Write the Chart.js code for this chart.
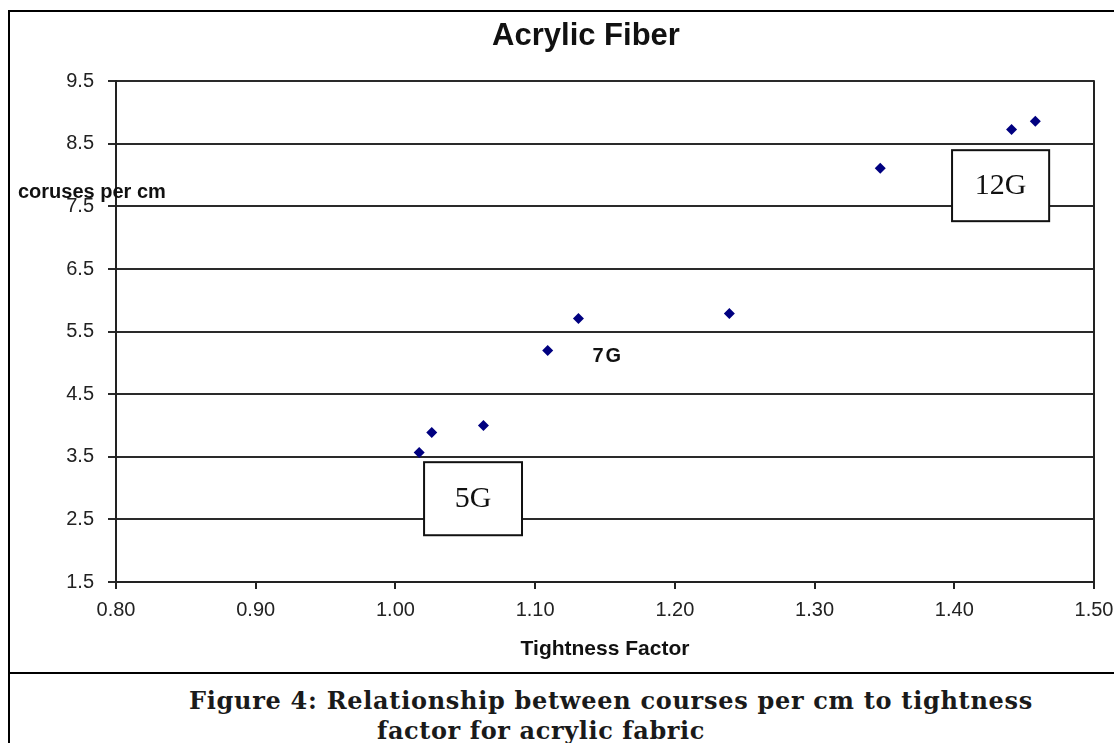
<!DOCTYPE html>
<html><head><meta charset="utf-8">
<script src="https://cdn.jsdelivr.net/npm/chart.js@4/dist/chart.umd.min.js"></script>
<style>
html,body{margin:0;padding:0;background:#fff;overflow:hidden;width:1114px;height:743px;}
#frame{position:absolute;left:8px;top:10px;width:1200px;height:800px;border-left:2px solid #000;border-top:2px solid #000;}
#sep{position:absolute;left:8px;top:672px;width:1200px;height:2px;background:#000;}
#wrap{position:absolute;left:10px;top:12px;width:1152px;height:660px;}
.cap{position:absolute;font-family:"DejaVu Serif",serif;font-weight:bold;font-size:24px;color:#1a1a1a;white-space:nowrap;line-height:28px;}
</style></head>
<body>
<div id="frame"></div><div id="sep"></div>
<div id="wrap"><canvas id="c" width="1152" height="660"></canvas></div>
<div class="cap" id="cap1" style="left:189px;top:687px">Figure 4: Relationship between courses per cm to tightness</div>
<div class="cap" id="cap2" style="left:377px;top:717px">factor for acrylic fabric</div>
<script>
// ---- data ----
const tightness = [1.017, 1.026, 1.063, 1.109, 1.131, 1.239, 1.347, 1.441, 1.458];
const courses   = [3.57,  3.89,  4.00,  5.20,  5.71,  5.79,  8.11,  8.73,  8.86];
const xTickValues = [0.8, 0.9, 1.0, 1.1, 1.2, 1.3, 1.4, 1.5];
const yTickValues = [1.5, 2.5, 3.5, 4.5, 5.5, 6.5, 7.5, 8.5, 9.5];
const boxLabels = ['5G', '12G'];
const plainLabels = ['7G'];

// annotation anchors in data units
const boxAnchors = [
  {x0: 1.0205, x1: 1.0906, y0: 2.247, y1: 3.414},
  {x0: 1.3984, x1: 1.4679, y0: 7.264, y1: 8.398}
];
const plainAnchors = [{x: 1.152, y: 5.107}];

// fit caption widths
function fitWidth(id, target){
  const el = document.getElementById(id);
  const w = el.getBoundingClientRect().width;
  const n = el.textContent.length;
  el.style.letterSpacing = ((target - w) / n) + 'px';
}
fitWidth('cap1', 844);
fitWidth('cap2', 328);

const decor = {
  id: 'decor',
  afterDraw(chart){
    const {ctx, chartArea: a, scales: {x, y}} = chart;
    ctx.save();
    // right frame of plot area
    ctx.strokeStyle = '#222';
    ctx.lineWidth = 2;
    ctx.beginPath();
    ctx.moveTo(a.right, a.top - 1);
    ctx.lineTo(a.right, a.bottom + 1);
    ctx.stroke();
    // boxed labels
    boxAnchors.forEach((b, i) => {
      const l = x.getPixelForValue(b.x0), r = x.getPixelForValue(b.x1);
      const t = y.getPixelForValue(b.y1), btm = y.getPixelForValue(b.y0);
      ctx.fillStyle = '#fff';
      ctx.fillRect(l, t, r - l, btm - t);
      ctx.strokeStyle = '#111';
      ctx.lineWidth = 2;
      ctx.strokeRect(l, t, r - l, btm - t);
      ctx.fillStyle = '#111';
      ctx.font = '30px "Liberation Serif", serif';
      ctx.textAlign = 'center';
      ctx.textBaseline = 'middle';
      ctx.fillText(boxLabels[i], (l + r) / 2, (t + btm) / 2);
    });
    // plain labels
    plainAnchors.forEach((p, i) => {
      ctx.fillStyle = '#111';
      ctx.font = 'bold 20px "Liberation Sans", Arial, sans-serif';
      ctx.letterSpacing = '2px';
      ctx.textAlign = 'center';
      ctx.textBaseline = 'middle';
      ctx.fillText(plainLabels[i], x.getPixelForValue(p.x), y.getPixelForValue(p.y));
    });
    ctx.letterSpacing = '0px';
    // horizontal y-axis caption
    ctx.fillStyle = '#111';
    ctx.font = 'bold 20px "Liberation Sans", Arial, sans-serif';
    ctx.textAlign = 'left';
    ctx.textBaseline = 'middle';
    ctx.fillText('coruses per cm', a.left - 98, y.getPixelForValue(7.73));
    ctx.restore();
  }
};

new Chart(document.getElementById('c'), {
  type: 'scatter',
  data: {
    datasets: [{
      label: 'Acrylic',
      data: tightness.map((v, i) => ({x: v, y: courses[i]})),
      pointStyle: 'rectRot',
      pointRadius: 5.5,
      backgroundColor: '#000080',
      borderColor: '#000080',
      borderWidth: 0,
      showLine: false
    }]
  },
  options: {
    responsive: false,
    animation: false,
    devicePixelRatio: 1,
    layout: {padding: {left: 46, right: 46, top: 0, bottom: 10}},
    plugins: {
      legend: {display: false},
      tooltip: {enabled: false},
      title: {
        display: true,
        text: 'Acrylic Fiber',
        color: '#111',
        font: {family: '"Liberation Sans", Arial, sans-serif', size: 31, weight: 'bold'},
        padding: {top: 6, bottom: 26}
      }
    },
    scales: {
      x: {
        type: 'linear', min: 0.8, max: 1.5,
        afterBuildTicks: s => { s.ticks = xTickValues.map(v => ({value: v})); },
        afterFit: s => { s.height = 80; },
        ticks: {
          callback: v => Number(v).toFixed(2),
          font: {family: '"Liberation Sans", Arial, sans-serif', size: 20},
          color: '#222', padding: 9, maxRotation: 0, autoSkip: false
        },
        grid: {drawOnChartArea: false, drawTicks: true, tickLength: 7, color: '#222', lineWidth: 2},
        border: {color: '#222', width: 2},
        title: {
          display: true, text: 'Tightness Factor', color: '#111',
          font: {family: '"Liberation Sans", Arial, sans-serif', size: 21, weight: 'bold'},
          padding: {top: 0, bottom: 0}
        }
      },
      y: {
        type: 'linear', min: 1.5, max: 9.5,
        afterBuildTicks: s => { s.ticks = yTickValues.map(v => ({value: v})); },
        afterFit: s => { s.width = 60; },
        ticks: {
          callback: v => Number(v).toFixed(1),
          font: {family: '"Liberation Sans", Arial, sans-serif', size: 20},
          color: '#222', padding: 14, autoSkip: false
        },
        grid: {color: '#2a2a2a', lineWidth: 2, tickLength: 8},
        border: {color: '#222', width: 2}
      },
      yRight: {
        type: 'linear', position: 'right', min: 0, max: 1,
        afterFit: s => { s.width = 22; },
        ticks: {display: false},
        grid: {display: false},
        border: {display: false}
      }
    }
  },
  plugins: [decor]
});
</script>
</body></html>
